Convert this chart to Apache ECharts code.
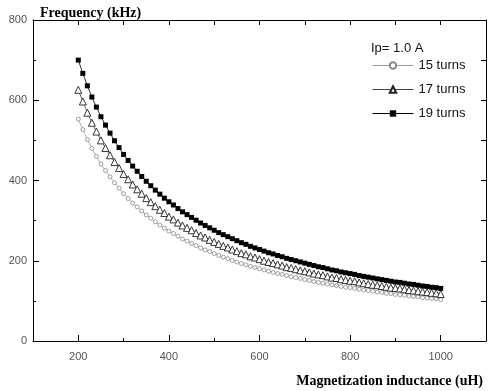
<!DOCTYPE html>
<html>
<head>
<meta charset="utf-8">
<script src="https://cdn.jsdelivr.net/npm/echarts@6/dist/echarts.min.js"></script>
<style>html,body{margin:0;padding:0;background:#fff;}#c{width:488px;height:391px;}</style>
</head>
<body>
<div id="c"></div>
<script>
// Magnetization inductance (uH)
const inductance = [200,210,220,230,240,250,260,270,280,290,300,310,320,330,340,350,360,370,380,390,
  400,410,420,430,440,450,460,470,480,490,500,510,520,530,540,550,560,570,580,590,
  600,610,620,630,640,650,660,670,680,690,700,710,720,730,740,750,760,770,780,790,
  800,810,820,830,840,850,860,870,880,890,900,910,920,930,940,950,960,970,980,990,1000];
// Frequency (kHz)
const turns15 = [553,527,502,480,460,441,425,409,394,381,367,355,344,334,324,314,306,297,289,281,
  274,268,261,254,249,243,238,232,227,223,218,213,209,205,201,197,193,190,186,183,
  180,177,174,171,168,166,163,160,158,156,153,151,148,146,144,142,140,138,136,134,
  133,131,129,127,126,124,122,121,119,118,116,115,114,112,111,110,108,107,106,105,103];
const turns17 = [626,597,569,544,522,500,481,463,446,431,416,403,390,378,367,356,346,336,327,319,
  310,303,295,288,282,276,269,263,258,252,247,242,237,233,228,224,219,216,211,208,
  204,200,197,194,191,188,184,182,179,176,174,171,168,166,164,161,158,157,154,152,
  150,149,146,144,142,140,139,137,135,133,132,131,129,127,126,124,123,122,120,119,117];
const turns19 = [700,667,636,608,583,559,538,518,499,482,465,450,436,423,410,398,387,376,366,356,
  347,339,330,322,315,308,301,294,288,282,276,270,265,260,255,250,245,241,236,232,
  228,224,220,217,213,210,206,203,200,197,194,191,188,185,183,180,177,175,172,170,
  168,166,163,161,159,157,155,153,151,149,147,146,144,142,141,139,137,136,134,133,131];
const seriesNames = ['15 turns','17 turns','19 turns'];
const xMajorTicks = [200,400,600,800,1000];
const xMinorTicks = [300,500,700,900];
const xTopTicks = [200,300,400,500,600,700,800,900,1000];

const pairs = arr => inductance.map((x,i)=>[x,arr[i]]);
const chart = echarts.init(document.getElementById('c'), null, {renderer:'canvas'});
const labelFont = {fontFamily:'Liberation Sans, Arial, sans-serif', fontSize:11, color:'#555'};
chart.setOption({
  animation:false,
  backgroundColor:'#fff',
  grid:{left:33, right:2, top:20, bottom:50, containLabel:false},
  title:[
    {text:'Frequency (kHz)', left:35, top:1, textStyle:{fontFamily:'Liberation Serif, Times New Roman, serif', fontWeight:'bold', fontSize:14, color:'#000'}},
    {text:'Magnetization inductance (uH)', right:0, top:369, textStyle:{fontFamily:'Liberation Serif, Times New Roman, serif', fontWeight:'bold', fontSize:14, color:'#000'}},
    {text:'Ip= 1.0 A', left:366, top:37, textStyle:{fontFamily:'Liberation Sans, Arial, sans-serif', fontWeight:'normal', fontSize:13, color:'#111'}}
  ],
  legend:{
    orient:'vertical', left:367, top:53, itemWidth:41, itemHeight:8, itemGap:9,
    data:seriesNames,
    lineStyle:{width:1},
    textStyle:{fontFamily:'Liberation Sans, Arial, sans-serif', fontSize:13, color:'#111', lineHeight:15}
  },
  xAxis:[
    {type:'value', min:100, max:1100, position:'bottom',
     axisLine:{show:true, lineStyle:{color:'#000', width:1}},
     axisTick:{show:true, inside:true, length:6, customValues:xMajorTicks, lineStyle:{color:'#000'}},
     axisLabel:Object.assign({show:true, margin:10, customValues:xMajorTicks, formatter:v=>String(v)}, labelFont),
     splitLine:{show:false}},
    {type:'value', min:100, max:1100, position:'bottom',
     axisLine:{show:false},
     axisTick:{show:true, inside:true, length:3, customValues:xMinorTicks, lineStyle:{color:'#000'}},
     axisLabel:{show:false}, splitLine:{show:false}},
    {type:'value', min:100, max:1100, position:'top',
     axisLine:{show:true, lineStyle:{color:'#000', width:1}},
     axisTick:{show:true, inside:true, length:5, customValues:xTopTicks, lineStyle:{color:'#000'}},
     axisLabel:{show:false}, splitLine:{show:false}}
  ],
  yAxis:[
    {type:'value', min:0, max:800, interval:200, position:'left',
     axisLine:{show:true, lineStyle:{color:'#000', width:1}},
     axisTick:{show:true, inside:true, length:6, lineStyle:{color:'#000'}},
     minorTick:{show:true, splitNumber:2, length:3, lineStyle:{color:'#000'}},
     axisLabel:Object.assign({show:true, margin:6}, labelFont),
     splitLine:{show:false}},
    {type:'value', min:0, max:800, interval:100, position:'right',
     axisLine:{show:true, lineStyle:{color:'#000', width:1}},
     axisTick:{show:true, inside:true, length:5, lineStyle:{color:'#000'}},
     axisLabel:{show:false}, splitLine:{show:false}}
  ],
  series:[
    {name:seriesNames[0], type:'line', data:pairs(turns15), symbol:'circle', symbolSize:4,
     lineStyle:{color:'#999', width:0.8}, itemStyle:{color:'#fff', borderColor:'#888', borderWidth:0.8}},
    {name:seriesNames[1], type:'line', data:pairs(turns17), symbol:'triangle', symbolSize:7,
     lineStyle:{color:'#444', width:0.8}, itemStyle:{color:'#fff', borderColor:'#222', borderWidth:0.9}},
    {name:seriesNames[2], type:'line', data:pairs(turns19), symbol:'rect', symbolSize:5,
     lineStyle:{color:'#000', width:0.8}, itemStyle:{color:'#000', borderColor:'#000', borderWidth:0}}
  ]
});
</script>
</body>
</html>
